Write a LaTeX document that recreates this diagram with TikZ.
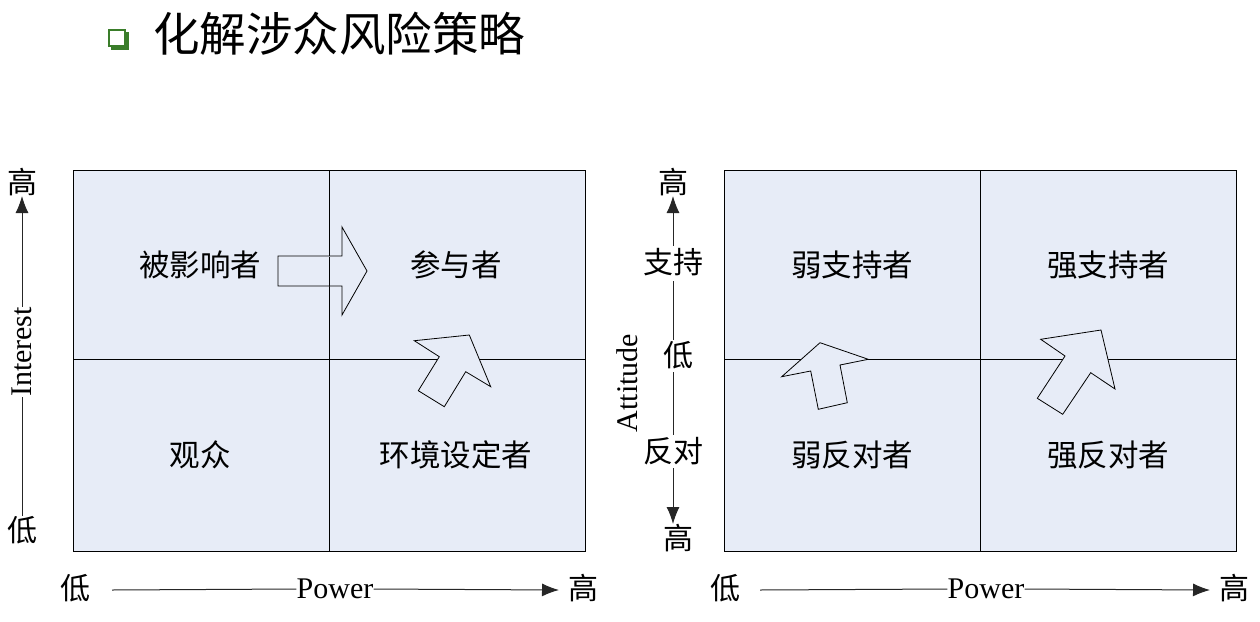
\documentclass[tikz,border=0pt]{standalone}
\usepackage{fontspec}
\setmainfont{Liberation Serif}
\newfontfamily\cjk{Noto Sans CJK SC}
\usetikzlibrary{arrows.meta}
\definecolor{cellfill}{HTML}{E7ECF7}
\definecolor{bulletgreen}{HTML}{3A7D2A}
\tikzset{
  cellbox/.style={draw=black,line width=0.9pt,fill=cellfill},
  gridline/.style={draw=black,line width=1pt},
  blockarrow/.style={draw=black,line width=0.8pt,fill=cellfill,line join=miter},
  lbl/.style={font=\cjk\fontsize{30.5}{32}\selectfont,inner sep=0pt},
  axlbl/.style={font=\cjk\fontsize{30}{32}\selectfont,inner sep=0pt},
  axword/.style={font=\fontsize{30}{32}\selectfont,inner sep=0pt},
  axline/.style={line width=1pt,draw=black!85},
  axarrow/.style={line width=1pt,draw=black!85,-{Latex[length=17pt,width=13pt]}}
}
\begin{document}
\begin{tikzpicture}[x=1pt,y=-1pt]
\useasboundingbox (0,0) rectangle (1260,621);
% title
\fill[bulletgreen] (111,32) rectangle (129,50);
\draw[bulletgreen,line width=1.6pt,fill=white] (109,30) rectangle (125,46);
\node[font=\cjk\fontsize{46.5}{50}\selectfont,inner sep=0pt,anchor=west] (title) at (153,34) {化解涉众风险策略};

% ---------- left matrix ----------
\path[cellbox] (73,170) rectangle (585,551);
\draw[gridline] (329,170) -- (329,551);
\draw[gridline] (73,359) -- (585,359);
\node[lbl] (a1) at (200,265) {被影响者};
\node[lbl] (a2) at (456,265) {参与者};
\node[lbl] (a3) at (200,455) {观众};
\node[lbl] (a4) at (456,455) {环境设定者};
% block arrows
\draw[blockarrow] (278,256) -- (342,256) -- (342,227) -- (367,271) -- (342,315) -- (342,286) -- (278,286) -- cycle;
\draw[gridline] (329,256.5) -- (329,285.5);
\draw[blockarrow] (414.3,340.7) -- (439.3,356.7) -- (418.3,390.7) -- (444.3,406.7) -- (465.7,371.7) -- (490.7,386.7) -- (469.3,335) -- cycle;

% left vertical axis
\node[axlbl] (lhi) at (22,182) {高};
\node[axlbl] (llo) at (22,530) {低};
\node[axword,rotate=90] (interest) at (22,352) {Interest};
\draw[axline] (22,516) -- (interest.west);
\draw[axarrow] (interest.east) -- (22,196);

% left horizontal axis
\node[axlbl] (plo) at (75,588) {低};
\node[axlbl] (phi) at (583,588) {高};
\node[axword] (power1) at (335,589) {Power};
\draw[axline] (112,590) -- (power1.west);
\draw[axarrow] (power1.east) -- (559,590);

% ---------- right matrix ----------
\path[cellbox] (724,170) rectangle (1236,551);
\draw[gridline] (980,170) -- (980,551);
\draw[gridline] (724,359) -- (1236,359);
\node[lbl] (b1) at (852,265) {弱支持者};
\node[lbl] (b2) at (1108,265) {强支持者};
\node[lbl] (b3) at (852,455) {弱反对者};
\node[lbl] (b4) at (1108,455) {强反对者};
\draw[blockarrow] (781.7,376.7) -- (820,342.7) -- (868.3,359.3) -- (840,365) -- (847.3,402.7) -- (818.3,409.3) -- (810.7,371) -- cycle;
\draw[blockarrow] (1040.7,339.3) -- (1101,330) -- (1115,389) -- (1090.7,372.7) -- (1062.7,414.3) -- (1037.3,398.3) -- (1065,356) -- cycle;

% right vertical axis
\node[axlbl] (rhi) at (673,182) {高};
\node[axlbl] (rsup) at (673,262) {支持};
\node[axlbl] (rlo) at (678,355) {低};
\node[axlbl] (ropp) at (673,451) {反对};
\node[axlbl] (rhi2) at (678,538) {高};
\node[axword,rotate=90] (attitude) at (627,383) {Attitude};
\draw[axarrow] (673,246) -- (673,196);
\draw[axline] (673,281) -- (673,340);
\draw[axline] (673,372) -- (673,435);
\draw[axarrow] (673,468) -- (673,524);

% right horizontal axis
\node[axlbl] (qlo) at (725,588) {低};
\node[axlbl] (qhi) at (1234,588) {高};
\node[axword] (power2) at (986,589) {Power};
\draw[axline] (760,590) -- (power2.west);
\draw[axarrow] (power2.east) -- (1210,590);
\end{tikzpicture}
\end{document}
